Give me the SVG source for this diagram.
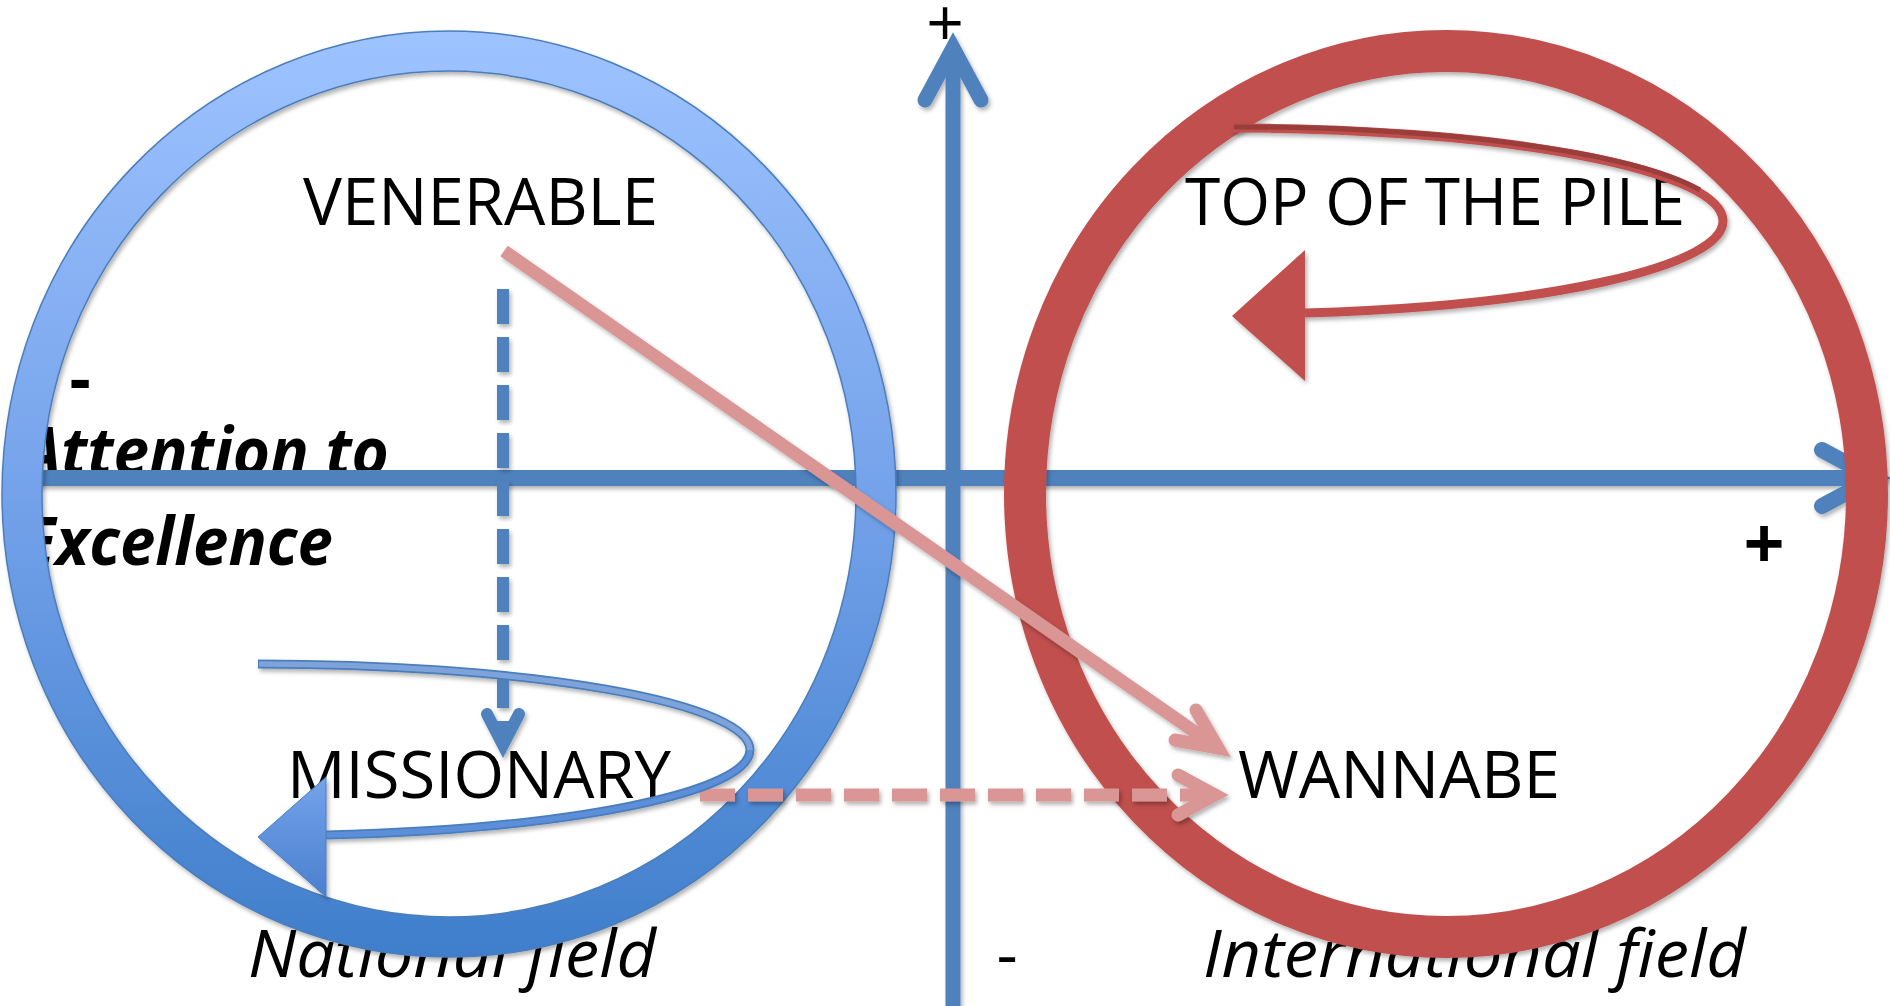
<svg xmlns="http://www.w3.org/2000/svg" width="1890" height="1006" viewBox="0 0 1890 1006">
<style>
.lbl{font-family:"Open Sans","Noto Sans","DejaVu Sans",sans-serif;font-size:66px;fill:#000}
.it{font-style:italic}
.bi{font-style:italic;font-weight:bold}
.b{font-weight:bold}
.axis{stroke:#4F81BD;fill:none}
.pink{stroke:#D99694;fill:none;stroke-width:13}
.bdash{stroke:#4F81BD;fill:none;stroke-width:12}
.head{stroke-linejoin:miter;stroke-linecap:round;stroke-miterlimit:10}
</style>
<defs>
<linearGradient id="blueGrad" gradientUnits="userSpaceOnUse" x1="0" y1="31" x2="0" y2="957">
<stop offset="0" stop-color="#9EC3FF"/>
<stop offset="0.5" stop-color="#74A2EA"/>
<stop offset="1" stop-color="#3F7ECB"/>
</linearGradient>
<linearGradient id="blueHead" gradientUnits="userSpaceOnUse" x1="0" y1="777" x2="0" y2="897">
<stop offset="0" stop-color="#74A3EA"/>
<stop offset="1" stop-color="#4A80CF"/>
</linearGradient>
<filter id="sh" filterUnits="userSpaceOnUse" x="-50" y="-50" width="2000" height="1110">
<feDropShadow dx="2" dy="3" stdDeviation="2" flood-color="#000" flood-opacity="0.3"/>
</filter>
</defs>
<rect width="1890" height="1006" fill="#fff"/>

<g id="axis-labels">
<text class="lbl bi" x="21" y="475" textLength="368" lengthAdjust="spacingAndGlyphs">Attention to</text>
<text class="lbl bi" x="21" y="565" textLength="312" lengthAdjust="spacingAndGlyphs">Excellence</text>
<text class="lbl b" x="80" y="402" text-anchor="middle">-</text>
<text class="lbl b" x="1764" y="569" font-size="72" text-anchor="middle" style="font-size:72px">+</text>
<text class="lbl" x="945" y="46" text-anchor="middle">+</text>
<text class="lbl" x="1007" y="977" text-anchor="middle">-</text>
<text class="lbl it" x="248" y="977" textLength="408" lengthAdjust="spacingAndGlyphs">National field</text>
<text class="lbl it" x="1203" y="977" textLength="543" lengthAdjust="spacingAndGlyphs">International field</text>
</g>

<g id="axes" filter="url(#sh)">
<line class="axis" x1="36" y1="478" x2="1874" y2="478" stroke-width="16"/>
<polyline class="axis head" points="1822,450 1874,478 1822,506" stroke-width="16"/>
<line class="axis" x1="953" y1="50" x2="953" y2="1006" stroke-width="15"/>
<polyline class="axis head" points="925,100 953,48 981,100" stroke-width="15"/>
</g>

<g id="national-circle" filter="url(#sh)">
<ellipse cx="449" cy="494" rx="427" ry="443" fill="none" stroke="url(#blueGrad)" stroke-width="40"/>
<ellipse cx="449" cy="494" rx="447" ry="463" fill="none" stroke="#4A7EBB" stroke-width="1.5"/>
<ellipse cx="449" cy="494" rx="407" ry="423" fill="none" stroke="#4A7EBB" stroke-width="1.5"/>
</g>

<g id="international-circle" filter="url(#sh)">
<ellipse cx="1446" cy="494" rx="421" ry="443" fill="none" stroke="#C0504D" stroke-width="42"/>
</g>

<g id="venerable"><text class="lbl" x="303" y="225" textLength="355" lengthAdjust="spacingAndGlyphs">VENERABLE</text></g>
<g id="top-of-the-pile"><text class="lbl" x="1185" y="225" textLength="500" lengthAdjust="spacingAndGlyphs">TOP OF THE PILE</text></g>
<g id="missionary"><text class="lbl" x="287" y="798" textLength="384" lengthAdjust="spacingAndGlyphs">MISSIONARY</text></g>
<g id="wannabe"><text class="lbl" x="1238" y="798" textLength="322" lengthAdjust="spacingAndGlyphs">WANNABE</text></g>

<g id="connectors" filter="url(#sh)">
<g id="venerable-to-missionary">
<line class="bdash" x1="503" y1="289" x2="503" y2="744" stroke-dasharray="35 13"/>
<polyline class="bdash head" points="487,714 503,745 519,714"/>
</g>
<g id="venerable-to-wannabe">
<line class="pink" x1="504" y1="251" x2="1218" y2="748"/>
<polyline class="pink head" points="1196,710 1218,748 1175,740"/>
</g>
<g id="missionary-to-wannabe">
<line class="pink" x1="700" y1="795" x2="1215" y2="795" stroke-dasharray="35 13"/>
<polyline class="pink head" points="1178,775 1215,795 1178,815"/>
</g>
<g id="missionary-loop">
<path d="M258,664 A492,86 0 0 1 750,750 A492,86 0 0 1 326,835" fill="none" stroke="#4A7EBB" stroke-width="9"/>
<path d="M259,664 A492,86 0 0 1 750,750" fill="none" stroke="#7EA2DA" stroke-width="5.5"/>
<path d="M750,750 A492,86 0 0 1 326,835" fill="none" stroke="#5B8EDA" stroke-width="5.5"/>
<polygon points="326,777 258,837 326,897" fill="url(#blueHead)" stroke="#4A7EBB" stroke-width="1"/>
</g>
<g id="top-loop">
<path d="M1233,128 A490,93 0 0 1 1723,221 A490,93 0 0 1 1305,313" fill="none" stroke="#C0504D" stroke-width="9"/>
<path d="M1234,127 A490,93 0 0 1 1700,190" fill="none" stroke="#9B3D3A" stroke-width="5"/>
<polygon points="1305,250 1232,316 1305,381" fill="#C0504D"/>
</g>
</g>
</svg>
